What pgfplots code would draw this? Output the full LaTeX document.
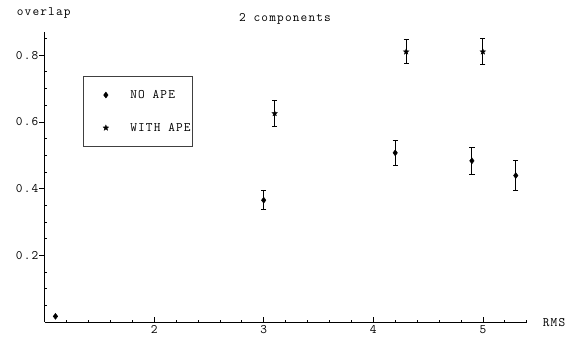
\documentclass[border=0pt]{standalone}
\usepackage{fontspec}
\setmainfont{Latin Modern Mono}[LetterSpace=9]
\usepackage{pgfplots}
\pgfplotsset{compat=1.18}
\pgfdeclareplotmark{fstar}{%
  \pgfpathmoveto{\pgfpointpolar{90}{\pgfplotmarksize}}%
  \pgfpathlineto{\pgfpointpolar{126}{0.42\pgfplotmarksize}}%
  \pgfpathlineto{\pgfpointpolar{162}{\pgfplotmarksize}}%
  \pgfpathlineto{\pgfpointpolar{198}{0.42\pgfplotmarksize}}%
  \pgfpathlineto{\pgfpointpolar{234}{\pgfplotmarksize}}%
  \pgfpathlineto{\pgfpointpolar{270}{0.42\pgfplotmarksize}}%
  \pgfpathlineto{\pgfpointpolar{306}{\pgfplotmarksize}}%
  \pgfpathlineto{\pgfpointpolar{342}{0.42\pgfplotmarksize}}%
  \pgfpathlineto{\pgfpointpolar{18}{\pgfplotmarksize}}%
  \pgfpathlineto{\pgfpointpolar{54}{0.42\pgfplotmarksize}}%
  \pgfpathclose
  \pgfusepathqfillstroke}
\newcommand{\lf}{\fontsize{13}{15}\selectfont}
\begin{document}
\begin{tikzpicture}[x=1bp,y=1bp]
\begin{axis}[
  at={(44.5bp,14bp)}, anchor=south west,
  scale only axis, width=482.2bp, height=290.3bp,
  xmin=1, xmax=5.4, ymin=0, ymax=0.87,
  axis lines=left,
  axis line style={-, line width=0.8bp, black},
  x axis line style={-}, y axis line style={-},
  clip=false,
  xtick={2,3,4,5},
  minor xtick={1.2,1.4,1.6,1.8,2.2,2.4,2.6,2.8,3.2,3.4,3.6,3.8,4.2,4.4,4.6,4.8,5.2,5.4},
  ytick={0.2,0.4,0.6,0.8},
  minor ytick={0.05,0.1,0.15,0.25,0.3,0.35,0.45,0.5,0.55,0.65,0.7,0.75,0.85},
  yticklabel style={/pgf/number format/fixed, /pgf/number format/precision=1, /pgf/number format/fixed zerofill},
  xtick align=inside, ytick align=outside,
  major tick length=5bp, minor tick length=2.5bp,
  tick style={black, line width=0.6bp},
  minor y tick style={xshift=2.5bp},
  /pgf/number format/assume math mode=true,
  every tick label/.append style={font=\lf},
  xticklabel style={inner sep=2bp, yshift=-1.5bp},
  yticklabel style={inner sep=1bp},
  legend style={at={(axis cs:1.352,0.738)}, anchor=north west,
    draw=black!75, line width=0.8bp, inner xsep=2bp, inner ysep=2.5bp,
    row sep=0pt, column sep=0pt, font=\lf,
    nodes={inner sep=0pt, anchor=west}},
  legend cell align=left,
  legend image code/.code={%
    \path (0bp,-16bp) (44bp,16bp);
    \path[#1] plot coordinates {(20bp,0bp)};},
]
\addplot+[only marks, black, mark=diamond*, mark size=3bp,
  mark options={fill=black, line width=0.4bp},
  error bars/.cd, y dir=both, y explicit,
  error bar style={line width=0.9bp, black},
  error mark options={rotate=90, mark size=2.6bp, line width=0.9bp, black}]
  coordinates {
  (1.1,0.017) +- (0,0.0)
  (3.0,0.365) +- (0,0.029)
  (4.2,0.507) +- (0,0.037)
  (4.9,0.483) +- (0,0.041)
  (5.3,0.439) +- (0,0.044)
  };
\addlegendentry{NO APE}
\addplot+[only marks, black, mark=fstar, mark size=3bp,
  mark options={fill=black, line width=0.3bp},
  error bars/.cd, y dir=both, y explicit,
  error bar style={line width=0.9bp, black},
  error mark options={rotate=90, mark size=2.6bp, line width=0.9bp, black}]
  coordinates {
  (3.1,0.625) +- (0,0.040)
  (4.3,0.810) +- (0,0.036)
  (5.0,0.810) +- (0,0.039)
  };
\addlegendentry{WITH APE}
\end{axis}
\node[font=\lf, anchor=base west, inner sep=0pt] at (16.7,321) {overlap};
\node[font=\lf, anchor=base, inner sep=0pt] at (285,314.3) {2 components};
\node[font=\lf, anchor=base west, inner sep=0pt] at (542.7,9.3) {RMS};
\pgfresetboundingbox
\useasboundingbox (0,0) rectangle (576,336);
\end{tikzpicture}
\end{document}
